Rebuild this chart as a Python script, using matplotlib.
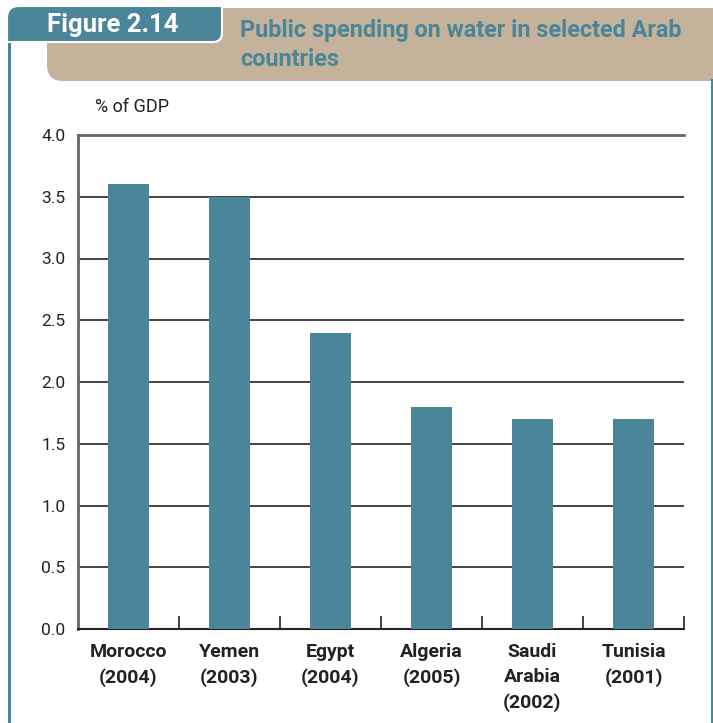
import matplotlib
matplotlib.use("Agg")
import matplotlib.pyplot as plt
from matplotlib.patches import PathPatch
from matplotlib.path import Path
from matplotlib.lines import Line2D

# data
countries = ["Morocco\n(2004)", "Yemen\n(2003)", "Egypt\n(2004)",
             "Algeria\n(2005)", "Saudi\nArabia\n(2002)", "Tunisia\n(2001)"]
spending = [3.6, 3.5, 2.4, 1.8, 1.7, 1.7]
yticks = [0.0, 0.5, 1.0, 1.5, 2.0, 2.5, 3.0, 3.5, 4.0]

teal = "#4a8599"
tan = "#c4b39a"
font = ["Roboto", "DejaVu Sans"]


def box_path(x0, y0, x1, y1, r_tl=0, r_tr=0, r_br=0, r_bl=0):
    # y grows downward (pixel coords), corners rounded with quadratic curves
    verts = [(x0 + r_tl, y0), (x1 - r_tr, y0), (x1, y0), (x1, y0 + r_tr),
             (x1, y1 - r_br), (x1, y1), (x1 - r_br, y1),
             (x0 + r_bl, y1), (x0, y1), (x0, y1 - r_bl),
             (x0, y0 + r_tl), (x0, y0), (x0 + r_tl, y0)]
    codes = [Path.MOVETO, Path.LINETO, Path.CURVE3, Path.CURVE3,
             Path.LINETO, Path.CURVE3, Path.CURVE3,
             Path.LINETO, Path.CURVE3, Path.CURVE3,
             Path.LINETO, Path.CURVE3, Path.CURVE3]
    return Path(verts, codes)


W, H = 713, 723
fig = plt.figure(figsize=(W / 100, H / 100), dpi=100)

# background layer in pixel coordinates for the header and frame
bg = fig.add_axes([0, 0, 1, 1])
bg.set_xlim(0, W)
bg.set_ylim(H, 0)
bg.axis("off")

bg.add_patch(PathPatch(box_path(47, 8, 760, 81, r_bl=16), fc=tan, ec="none"))
bg.add_patch(PathPatch(box_path(7, 6, 222, 42, r_tl=12, r_br=9),
                       fc=teal, ec="white", lw=1.5))
bg.add_line(Line2D([8.5, 8.5], [44, H], color=teal, lw=2.2))
bg.add_line(Line2D([711.5, 711.5], [80, H], color=teal, lw=2.2))

bg.text(47, 25, "Figure 2.14", color="white", fontsize=18.5, fontweight="bold",
        family=font, va="center", ha="left")
bg.text(240, 30, "Public spending on water in selected Arab", color=teal,
        fontsize=16.8, fontweight="bold", family=font, va="center", ha="left")
bg.text(240, 60, "countries", color=teal,
        fontsize=16.8, fontweight="bold", family=font, va="center", ha="left")
bg.text(95, 107, "% of GDP", color="#222222", fontsize=13, family=font,
        va="center", ha="left")

# main chart
ax = fig.add_axes([78 / W, (H - 629) / H, (684 - 78) / W, (629 - 135) / H])
x = list(range(len(countries)))
ax.bar(x, spending, width=0.4, color=teal, zorder=3)
ax.set_xlim(-0.5, len(countries) - 0.5)
ax.set_ylim(0, 4.0)
ax.set_yticks(yticks)
ax.set_yticklabels([f"{v:.1f}" for v in yticks], fontsize=12.5, family=font,
                   color="#222222")
ax.set_xticks(x)
ax.set_xticklabels(countries, fontsize=14, fontweight="bold", family=font,
                   color="#222222", linespacing=1.5, va="top")
ax.set_xticks([i + 0.5 for i in x], minor=True)
ax.tick_params(axis="x", which="major", length=0, pad=10)
ax.tick_params(axis="x", which="minor", direction="in", length=9.5, width=1.2,
               color="#222222")
ax.tick_params(axis="y", length=0, pad=9)

ax.yaxis.grid(True, color="#111111", lw=1.1)
ax.set_axisbelow(True)
for side in ["left", "top"]:
    ax.spines[side].set_color("#666666")
    ax.spines[side].set_linewidth(2)
ax.spines["bottom"].set_color("#222222")
ax.spines["bottom"].set_linewidth(1.5)
ax.spines["right"].set_visible(False)

fig.savefig("out.png", dpi=100)
